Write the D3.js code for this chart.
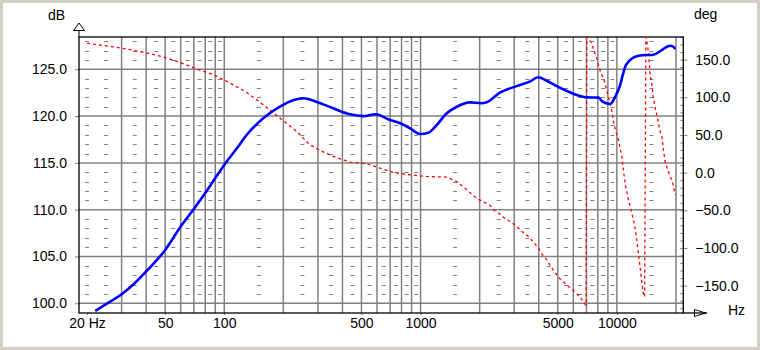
<!doctype html>
<html lang='en'>
  <head>
    <meta charset='utf-8' />
    <style>
      * { padding: 0; margin: 0; }
      body { background: #d4d0c8; width: 760px; height: 350px; overflow: hidden; }
      svg { display: block; font-family: 'Liberation Sans', Arial, sans-serif; font-size: 14px; }
    </style>
    <title>SPL / phase</title>
  </head>
  <body>
    <div id='container'></div>
    <script src='https://d3js.org/d3.v7.min.js'></script>
    <script type='text/javascript'>

      // SPL curve (blue)
      var splFreq = [22, 25, 30, 34.4, 40.7, 49.7, 60, 70, 80, 90,
        100, 116, 130, 158, 192, 226, 253, 294, 359, 437,
        510, 589, 699, 787, 884, 995, 1097, 1209, 1360, 1529,
        1787, 2045, 2170, 2535, 3077, 3597, 3965, 4397, 4944, 5560,
        6255, 7032, 8080, 8383, 8814, 9310, 9603, 10000, 10390, 10720,
        11030, 11460, 12140, 12880, 14220, 15070, 15990, 16950, 18000, 18680,
        19400, 19810];
      var splDb = [99.18, 99.9, 100.96, 102.0, 103.56, 105.62, 108.2, 110.07, 111.78, 113.39,
        114.78, 116.56, 117.98, 119.76, 121.0, 121.72, 121.9, 121.54, 120.83, 120.19,
        120.0, 120.19, 119.58, 119.23, 118.7, 118.09, 118.23, 119.05, 120.3, 121.0,
        121.47, 121.37, 121.47, 122.5, 123.2, 123.68, 124.15, 123.78, 123.2, 122.68,
        122.25, 122.0, 121.97, 121.6, 121.37, 121.3, 121.7, 122.44, 123.3, 124.4,
        125.28, 125.8, 126.24, 126.45, 126.53, 126.53, 126.7, 127.06, 127.41, 127.52,
        127.41, 127.17];

      // phase curve (red dashed), wrapped at +-180
      var phaseFreq = [20, 27.2, 33, 40.2, 48.9, 59.4, 72.3, 87.9, 106.9, 130,
        158, 192, 234, 273, 307, 359, 437, 532, 621, 727,
        884, 1075, 1360, 1529, 1720, 1814, 1940, 2089, 2242, 2377,
        2541, 2695, 2901, 3091, 3289, 3544, 3755, 4001, 4159, 4397,
        4607, 4827, 5058, 5429, 5728, 6126, 6498, 6808, 6970, 7030,
        7200, 7456, 7597, 7906, 8056, 8286, 8543, 8787, 8990, 9236,
        9424, 9603, 9876, 10186, 10390, 10600, 10724, 11035, 11460, 11918,
        12400, 12880, 13400, 13660, 13850, 14050, 14300, 14480, 14770, 15070,
        15350, 15990, 16620, 16950, 17270, 17620, 18680, 19060, 19420, 19810];
      var phaseDeg = [171.6, 166.9, 163.3, 158.9, 153.6, 146.4, 137.6, 130, 119, 106.5,
        90.2, 72.5, 54.7, 37, 29.5, 21.5, 14, 11.8, 6, 0.2,
        -2.9, -5.1, -6, -11.8, -22.8, -28.1, -34.4, -38.7, -42.7, -50.3,
        -55.1, -60.9, -65.8, -71.6, -78.2, -84.9, -91.9, -100.8, -108.3, -115.8,
        -124.7, -131.8, -139.4, -146.8, -152.1, -158.4, -165, -173, -176, 180,
        176, 172.2, 163.3, 152.3, 143.4, 132.3, 125.7, 114.5, 103.5, 92.4,
        81.3, 68, 54.7, 43.7, 32.6, 21.5, 10.4, -16.2, -36, -53.8,
        -73.7, -107, -144.7, -162.4, -165, 180, 170, 160, 130, 116.8,
        98, 75.6, 54.7, 48, 30.4, 14, -5.1, -9.5, -18.4, -29.4];

      // ticks and grid
      var freqLabels = [20, 50, 100, 500, 1000, 5000, 10000];
      var freqGrid = [30, 40, 50, 60, 70, 80, 90, 100, 200, 300, 400, 500, 600, 700, 800, 900,
        1000, 2000, 3000, 4000, 5000, 6000, 7000, 8000, 9000, 10000, 20000];
      var freqDash = [20, 25, 35, 45, 55, 65, 75, 85, 95, 150, 250, 350, 450, 550, 650, 750, 850, 950,
        1500, 2500, 3500, 4500, 5500, 6500, 7500, 8500, 9500, 15000];
      var dbTicks = [100, 105, 110, 115, 120, 125];
      var degTicks = [-150, -100, -50, 0, 50, 100, 150];

      var L = 79, R = 683.3, T = 37, B = 313;

      var x = d3.scaleLog().domain([18.2, 21800]).range([L, R]);
      var yL = d3.scaleLinear().domain([98.96, 128.45]).range([B, T]);
      var yR = d3.scaleLinear().domain([-186.3, 180]).range([B, T]);

      var svg = d3.select('#container').append('svg')
          .attr('width', 760)
          .attr('height', 350);

      svg.append('rect')
        .attr('x', 3).attr('y', 3).attr('width', 754).attr('height', 344)
        .attr('fill', '#fff');

      svg.append('clipPath').attr('id', 'plot')
        .append('rect').attr('x', L).attr('y', T).attr('width', R - L).attr('height', B - T);

      var grid = svg.append('g').attr('stroke', '#808080');

      grid.selectAll('.vg').data(freqGrid).enter().append('line')
        .attr('x1', function(d) { return x(d); })
        .attr('x2', function(d) { return x(d); })
        .attr('y1', T).attr('y2', B)
        .attr('stroke-width', 1.5);

      grid.selectAll('.hg').data(dbTicks).enter().append('line')
        .attr('x1', L).attr('x2', R)
        .attr('y1', function(d) { return yL(d); })
        .attr('y2', function(d) { return yL(d); })
        .attr('stroke-width', 1.5);

      // short dashes at every dB between the grid lines
      var minorDb = d3.range(100, 129).filter(function(d) { return d % 5 != 0; });
      var dashes = [];
      freqDash.forEach(function(f) {
        minorDb.forEach(function(db) { dashes.push([f, db]); });
      });
      grid.selectAll('.dash').data(dashes).enter().append('line')
        .attr('x1', function(d) { return x(d[0]) - 2; })
        .attr('x2', function(d) { return x(d[0]) + 2; })
        .attr('y1', function(d) { return Math.round(yL(d[1])) + 0.5; })
        .attr('y2', function(d) { return Math.round(yL(d[1])) + 0.5; })
        .attr('stroke-width', 1);

      // axes
      var axL = svg.append('g').attr('transform', 'translate(' + L + ',0)')
        .call(d3.axisLeft(yL).tickValues(dbTicks).tickFormat(d3.format('.1f')).tickSize(4).tickPadding(8));
      var axR = svg.append('g').attr('transform', 'translate(' + R + ',0)')
        .call(d3.axisRight(yR).tickValues(degTicks).tickFormat(d3.format('.1f')).tickSize(4).tickPadding(8));
      var axRm = svg.append('g').attr('transform', 'translate(' + (R - 3) + ',0)')
        .call(d3.axisRight(yR).tickValues(d3.range(-180, 181, 10)).tickFormat('').tickSize(3));
      var axB = svg.append('g').attr('transform', 'translate(0,' + B + ')')
        .call(d3.axisBottom(x).tickValues(freqLabels)
          .tickFormat(function(d) { return d == 20 ? '20 Hz' : d; }).tickSize(2).tickPadding(3));

      [axL, axR, axRm, axB].forEach(function(a) {
        a.select('.domain').remove();
        a.selectAll('line').attr('stroke', '#808080');
        a.selectAll('text').attr('fill', '#000').style('font-size', '14px')
          .style('font-family', "'Liberation Sans', Arial, sans-serif");
      });

      // frame
      svg.append('rect')
        .attr('x', L).attr('y', T).attr('width', R - L).attr('height', B - T)
        .attr('fill', 'none').attr('stroke', '#000').attr('stroke-width', 1.3);
      svg.append('line').attr('x1', L).attr('x2', L).attr('y1', 30).attr('y2', T)
        .attr('stroke', '#000');
      svg.append('path').attr('d', 'M' + L + ',23L' + (L + 5.5) + ',30.5L' + (L - 5.5) + ',30.5Z')
        .attr('fill', '#fff').attr('stroke', '#000');
      svg.append('line').attr('x1', R).attr('x2', 706).attr('y1', B).attr('y2', B)
        .attr('stroke', '#000').attr('stroke-width', 1.3);
      svg.append('path').attr('d', 'M694.5,309.5L705.5,' + B + 'L694.5,316.5Z')
        .attr('fill', '#fff').attr('stroke', '#000');
      svg.append('line').attr('x1', 694.5).attr('x2', 707).attr('y1', B).attr('y2', B)
        .attr('stroke', '#000').attr('stroke-width', 1.3);

      // unit labels
      svg.append('text').attr('x', 65).attr('y', 20).attr('text-anchor', 'end').text('dB');
      svg.append('text').attr('x', 694).attr('y', 19).text('deg');
      svg.append('text').attr('x', 728).attr('y', 315).text('Hz');

      var plot = svg.append('g').attr('clip-path', 'url(#plot)');

      var phaseLine = d3.line()
        .x(function(d, i) { return x(phaseFreq[i]); })
        .y(function(d) { return yR(d); });
      plot.append('path')
        .attr('d', phaseLine(phaseDeg))
        .attr('fill', 'none')
        .attr('stroke', '#ff0000')
        .attr('stroke-width', 1.3)
        .attr('stroke-dasharray', '3,3');

      var splLine = d3.line()
        .curve(d3.curveMonotoneX)
        .x(function(d, i) { return x(splFreq[i]); })
        .y(function(d) { return yL(d); });
      plot.append('path')
        .attr('d', splLine(splDb))
        .attr('fill', 'none')
        .attr('stroke', '#0000ff')
        .attr('stroke-width', 2.6);
    </script>
  </body>
</html>
